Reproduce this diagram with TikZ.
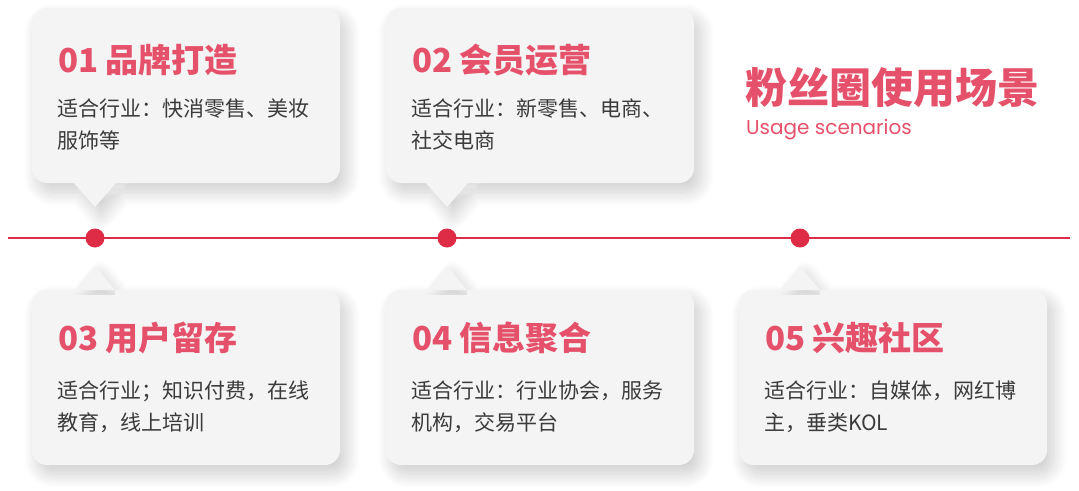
\documentclass[tikz,border=0pt]{standalone}
\usepackage{fontspec}
\setmainfont{Noto Sans CJK SC}
\newfontfamily\latinfont{Poppins}
\usetikzlibrary{shadows.blur}
\definecolor{titlered}{HTML}{E5516A}
\definecolor{linered}{HTML}{DE2C46}
\definecolor{boxfill}{HTML}{F4F4F5}
\definecolor{bodytext}{HTML}{3B3B3B}
\tikzset{
  cardshape/.style={fill=boxfill, blur shadow={shadow xshift=6pt, shadow yshift=-9pt, shadow blur radius=14pt, shadow opacity=20, shadow blur steps=16}},
  cardtitle/.style={anchor=base west, inner sep=0pt, text=titlered, font=\fontsize{33}{38}\selectfont\bfseries},
  cardbody/.style={anchor=base west, inner sep=0pt, align=left, text=bodytext, font=\fontsize{21}{32}\selectfont},
  tldot/.style={circle, fill=linered, minimum size=19pt, inner sep=0pt},
}
% top card: #1 left x, #2 pointer x
\newcommand\topcardshape[2]{%
  \path[cardshape, rounded corners=15pt] ({#1},8) rectangle ({#1+308},183)
    [sharp corners] ({#2-21},178) -- ({#2-21},183) -- ({#2},207) -- ({#2+21},183) -- ({#2+21},178) -- cycle;}
\newcommand\botcardshape[2]{%
  \path[cardshape, rounded corners=15pt] ({#1},290) rectangle ({#1+308},465)
    [sharp corners] ({#2-20},295) -- ({#2-20},290) -- ({#2},266) -- ({#2+20},290) -- ({#2+20},295) -- cycle;}
\begin{document}
\begin{tikzpicture}[x=1pt,y=-1pt]
\useasboundingbox (0,0) rectangle (1079,490);

% cards
\topcardshape{32}{95}
\topcardshape{386}{447}
\botcardshape{32}{95}
\botcardshape{386}{447}
\botcardshape{739}{800}

% timeline
\coordinate (lineL) at (8,238);
\coordinate (lineR) at (1070,238);
\draw[linered, line width=2pt] (lineL) -- (lineR);
\node[tldot] (d1) at (95,238) {};
\node[tldot] (d2) at (447,238) {};
\node[tldot] (d3) at (800,238) {};

% card texts (body anchor = baseline of last line)
\node[cardtitle] (t1) at (58,72) {01 品牌打造};
\node[cardbody] (b1) at (57,148) {适合行业：快消零售、美妆\\服饰等};

\node[cardtitle] (t2) at (412,72) {02 会员运营};
\node[cardbody] (b2) at (411,148) {适合行业：新零售、电商、\\社交电商};

\node[cardtitle] (t3) at (58,350) {03 用户留存};
\node[cardbody] (b3) at (57,430) {适合行业；知识付费，在线\\教育，线上培训};

\node[cardtitle] (t4) at (412,350) {04 信息聚合};
\node[cardbody] (b4) at (411,430) {适合行业：行业协会，服务\\机构，交易平台};

\node[cardtitle] (t5) at (765,350) {05 兴趣社区};
\node[cardbody] (b5) at (764,430) {适合行业：自媒体，网红博\\主，垂类KOL};

% heading
\node[anchor=base west, inner sep=0pt, text=titlered, font=\fontsize{42}{50}\selectfont\bfseries] (maintitle) at (745,103) {粉丝圈使用场景};
\node[anchor=base west, inner sep=0pt, text=titlered, font=\latinfont\fontsize{20}{24}\selectfont] (subtitle) at (746,134) {Usage scenarios};
\end{tikzpicture}
\end{document}
